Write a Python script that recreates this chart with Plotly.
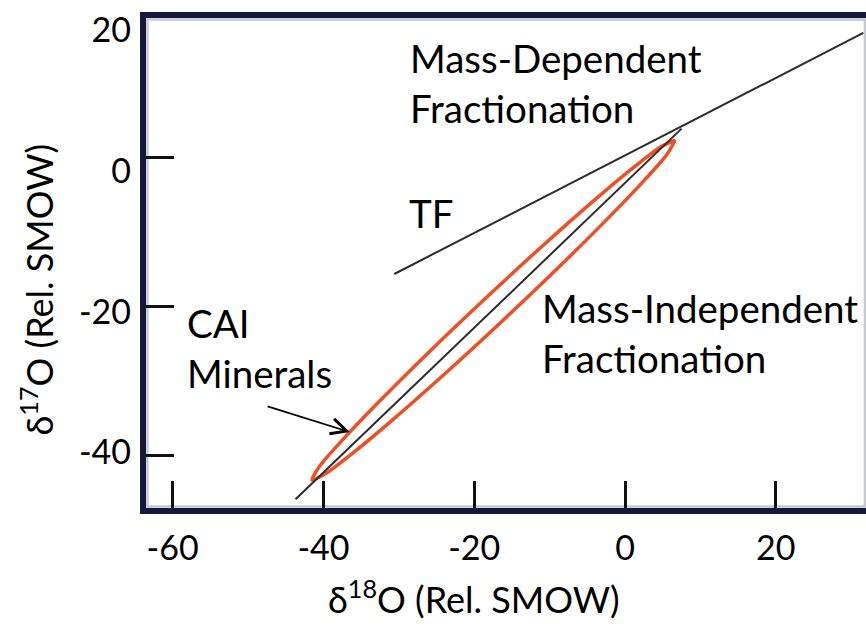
import plotly.graph_objects as go

# ---- data ----
tf_x = [-30.6, 31.6]          # terrestrial fractionation line (δ18O)
tf_y = [-15.65, 16.6]         # (δ17O)

mif_x = [-43.7, 7.5]          # mass-independent line (δ18O)
mif_y = [-45.8, 3.8]          # (δ17O)

# outline of the CAI mineral field
cai_upper_x = [-41.51, -40.51, -37.46, -32.90, -25.88, -18.71, -11.44, -4.02, 1.06, 4.76, 6.63]
cai_upper_y = [-43.21, -41.38, -37.84, -33.02, -25.98, -19.10, -12.34, -5.73, -1.45, 1.38, 2.27]
cai_lower_x = [6.63, 5.63, 2.58, -1.98, -9.01, -16.17, -23.45, -30.86, -35.94, -39.64, -41.51]
cai_lower_y = [2.27, 0.44, -3.09, -7.91, -14.96, -21.84, -28.60, -35.20, -39.48, -42.32, -43.21]

arrow_tail = [-47.6, -33.3]
arrow_tip = [-36.5, -36.8]

x_ticks = [-60, -40, -20, 0, 20]
x_ticktext = ["-60", "-40", "-20", "0", "20"]
y_ticks = [-40, -20, 0]
y_labels = [-40, -20, 0, 20]
y_labeltext = ["-40", "-20", "0", "20"]

FONT = "Lato"
FRAME = "#15183a"

fig = go.Figure()

fig.add_trace(go.Scatter(
    x=cai_upper_x + cai_lower_x, y=cai_upper_y + cai_lower_y,
    mode="lines", line=dict(color="#f04e23", width=3.5, shape="spline", smoothing=0.8),
    hoverinfo="skip", showlegend=False))
fig.add_trace(go.Scatter(
    x=mif_x, y=mif_y, mode="lines", line=dict(color="#2b2b2b", width=2),
    hoverinfo="skip", showlegend=False))
fig.add_trace(go.Scatter(
    x=tf_x, y=tf_y, mode="lines", line=dict(color="#2b2b2b", width=2),
    hoverinfo="skip", showlegend=False))
# empty trace so the label axis (y2) is drawn
fig.add_trace(go.Scatter(x=[None], y=[None], yaxis="y2", mode="lines",
                         hoverinfo="skip", showlegend=False))

ann_font = dict(family=FONT, size=38.5, color="black")
fig.add_annotation(x=-28.8, y=9.9, text="Mass-Dependent<br>Fractionation", showarrow=False,
                   xanchor="left", yanchor="middle", align="left", font=ann_font)
fig.add_annotation(x=-28.9, y=-7.5, text="TF", showarrow=False,
                   xanchor="left", yanchor="middle", align="left", font=ann_font)
fig.add_annotation(x=-58.4, y=-25.6, text="CAI<br>Minerals", showarrow=False,
                   xanchor="left", yanchor="middle", align="left", font=ann_font)
fig.add_annotation(x=-11.3, y=-23.5, text="Mass-Independent<br>Fractionation", showarrow=False,
                   xanchor="left", yanchor="middle", align="left", font=ann_font)
fig.add_annotation(x=arrow_tip[0], y=arrow_tip[1], ax=arrow_tail[0], ay=arrow_tail[1],
                   axref="x", ayref="y", xref="x", yref="y", text="", showarrow=True,
                   arrowhead=5, arrowsize=1.7, arrowwidth=1.8, arrowcolor="black")

# axis titles
title_font = dict(family=FONT, size=36, color="black")
fig.add_annotation(xref="paper", yref="paper", x=0.4556, y=-0.182, showarrow=False,
                   xanchor="center", yanchor="middle",
                   text="δ<sup>18</sup>O (Rel. SMOW)", font=title_font)
fig.add_annotation(xref="paper", yref="paper", x=-0.152, y=0.445, showarrow=False,
                   xanchor="center", yanchor="middle", textangle=-90,
                   text="δ<sup>17</sup>O (Rel. SMOW)", font=title_font)

# light inner rule of the frame
fig.add_shape(type="rect", xref="paper", yref="paper", x0=0.002, x1=0.9985, y0=0.003, y1=0.997,
              line=dict(color="#c7c8d2", width=2.5), layer="below")

fig.update_layout(
    width=866, height=627,
    margin=dict(l=146, r=0, t=18, b=119),
    paper_bgcolor="white", plot_bgcolor="white",
    showlegend=False,
    font=dict(family=FONT, color="black"),
    xaxis=dict(
        range=[-63.53, 31.96], tickvals=x_ticks, ticktext=x_ticktext,
        ticks="inside", ticklen=27, tickwidth=3, tickcolor="#111",
        showline=True, linewidth=6, linecolor=FRAME, mirror=True,
        showgrid=False, zeroline=False,
        tickfont=dict(family=FONT, size=34, color="black"),
        ticklabelstandoff=5,
    ),
    yaxis=dict(
        range=[-46.96, 18.6], tickvals=y_ticks, showticklabels=False,
        ticks="inside", ticklen=28, tickwidth=3, tickcolor="#111",
        showline=True, linewidth=6, linecolor=FRAME, mirror=False,
        showgrid=False, zeroline=False,
    ),
    yaxis2=dict(
        overlaying="y", anchor="x", side="left",
        range=[-47.90, 21.75], tickvals=y_labels, ticktext=y_labeltext,
        ticks="", showline=False, showgrid=False, zeroline=False,
        tickfont=dict(family=FONT, size=34, color="black"),
        ticklabelstandoff=14,
    ),
)

fig.write_html("out.html")
